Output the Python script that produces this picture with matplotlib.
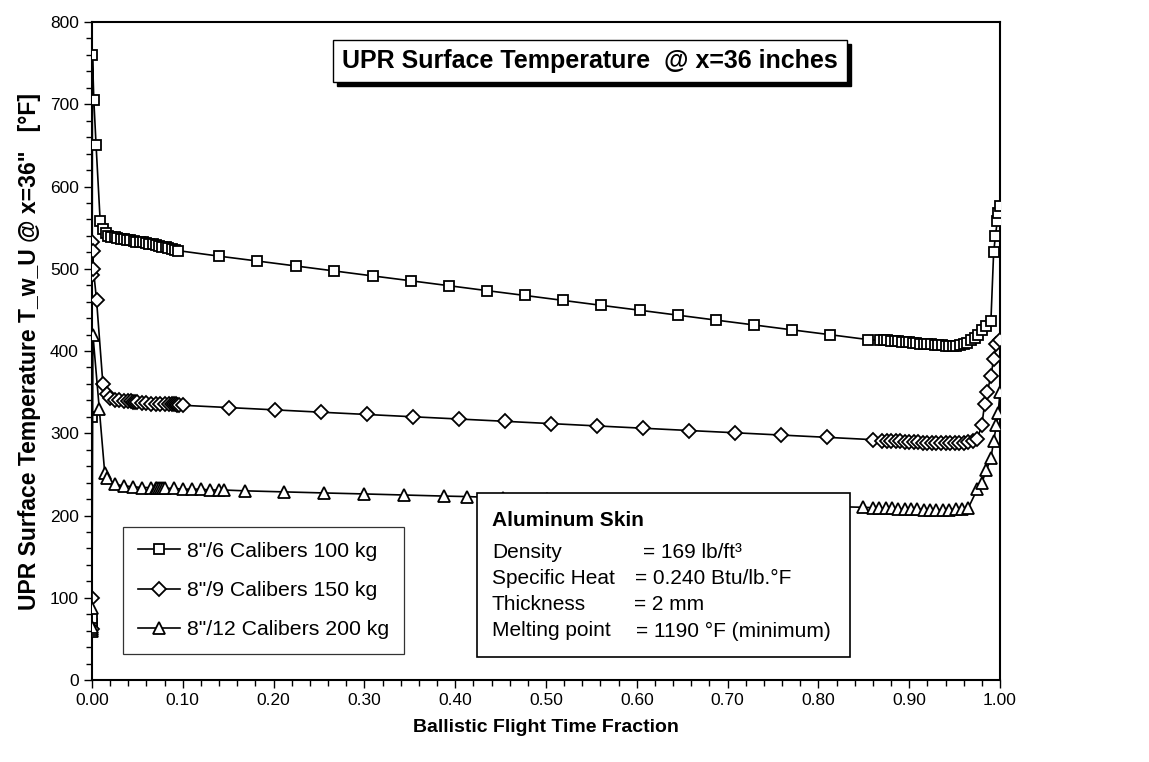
import matplotlib
matplotlib.use("Agg")
import matplotlib.pyplot as plt
from matplotlib.patches import Rectangle
from matplotlib.ticker import MultipleLocator, FormatStrFormatter

plt.rcParams['font.family'] = ['Liberation Sans', 'DejaVu Sans']

# 8"/6 calibers 100 kg (squares)
sq_x = [0, 0, 0, 0, 0.0005, 0.002, 0.0045, 0.009, 0.012, 0.015, 0.018,
        0.021, 0.025, 0.028, 0.032, 0.035, 0.039, 0.042, 0.046, 0.049, 0.053, 0.056,
        0.060, 0.063, 0.067, 0.070, 0.074, 0.077, 0.081, 0.084, 0.088, 0.091, 0.095,
        0.140, 0.182, 0.225, 0.267, 0.309, 0.351, 0.393, 0.435, 0.477, 0.519, 0.561,
        0.603, 0.645, 0.687, 0.729, 0.771, 0.813, 0.855,
        0.868, 0.872, 0.876, 0.880, 0.884, 0.888, 0.892, 0.896, 0.900, 0.904, 0.908,
        0.912, 0.916, 0.920, 0.924, 0.928, 0.932, 0.936, 0.940, 0.944, 0.948, 0.952,
        0.956, 0.960, 0.964, 0.968, 0.972, 0.976, 0.980, 0.985, 0.990, 0.993, 0.995,
        0.997, 0.998, 1.000]
sq_y = [62, 68, 75, 320, 760, 705, 650, 558, 548, 543, 540,
        539, 538, 537, 536.5, 536, 535, 534.5, 534, 533, 532.5, 532,
        531, 530, 529.5, 529, 528, 527, 526, 525, 524, 523, 522,
        515.3, 509.4, 503.3, 497.3, 491.3, 485.4, 479.4, 473.4, 467.5, 461.5, 455.5,
        449.6, 443.6, 437.6, 431.7, 425.7, 419.8, 413.8,
        413, 413, 413, 412, 412, 412, 411, 411, 411, 410, 410,
        409, 409, 408, 408, 407, 407, 407, 406, 406, 406, 406,
        407, 408, 410, 413, 416, 420, 425, 430, 437, 520, 540,
        558, 568, 576]

# 8"/9 calibers 150 kg (diamonds)
dm_x = [0, 0, 0, 0.0005, 0.001, 0.0015, 0.005, 0.012, 0.016, 0.020, 0.025, 0.030,
        0.035, 0.040, 0.043, 0.045, 0.047, 0.050, 0.055, 0.060, 0.065, 0.070, 0.075,
        0.080, 0.085, 0.088, 0.090, 0.092, 0.094, 0.096, 0.100,
        0.151, 0.202, 0.252, 0.303, 0.354, 0.404, 0.455, 0.506, 0.556, 0.607, 0.658,
        0.708, 0.759, 0.810, 0.860,
        0.870, 0.875, 0.880, 0.885, 0.890, 0.895, 0.900, 0.905, 0.910, 0.915, 0.920,
        0.925, 0.930, 0.935, 0.940, 0.945, 0.950, 0.955, 0.960, 0.965, 0.970, 0.975,
        0.980, 0.983, 0.986, 0.990, 0.993, 0.996, 1.000]
dm_y = [62, 100, 492, 533, 522, 500, 462, 360, 348, 343, 341, 340,
        339, 339, 339, 338, 338, 338, 337, 337, 336, 336, 336,
        335, 335, 335, 335, 335, 334, 334, 334,
        331.2, 328.4, 325.6, 322.8, 320.0, 317.3, 314.5, 311.7, 308.9, 306.1, 303.3,
        300.6, 297.8, 295.0, 292.2,
        291, 291, 290, 290, 290, 289, 289, 289, 289, 288, 288,
        288, 288, 288, 288, 288, 288, 288, 288, 289, 291, 293,
        310, 335, 350, 370, 390, 408, 413]

# 8"/12 calibers 200 kg (triangles)
tr_x = [0, 0, 0, 0, 0.001, 0.008, 0.014, 0.017, 0.025,
        0.035, 0.045, 0.055, 0.065, 0.070, 0.072, 0.074, 0.076, 0.078, 0.080, 0.090,
        0.100, 0.110, 0.120, 0.130, 0.140, 0.145,
        0.168, 0.212, 0.256, 0.300, 0.344, 0.388, 0.413, 0.453, 0.501, 0.545, 0.589,
        0.633, 0.677, 0.721, 0.765, 0.809,
        0.849, 0.860, 0.867, 0.874, 0.881, 0.888, 0.895, 0.902, 0.909, 0.916, 0.923,
        0.930, 0.937, 0.944, 0.951, 0.958, 0.965, 0.975, 0.980, 0.985, 0.990, 0.993,
        0.996, 0.998, 1.000]
tr_y = [60, 62, 65, 88, 420, 330, 252, 246, 238,
        236, 235, 234, 234, 233, 233, 233, 233, 233, 233, 233,
        232, 232, 232, 231, 231, 231,
        230, 228.7, 227.4, 226.2, 224.9, 223.6, 223, 221.5, 220, 218.5, 217.2,
        216, 214.7, 213.4, 212.1, 211,
        210, 209.5, 209, 209, 209, 208, 208, 208, 208, 207, 207,
        207, 207, 207, 208, 208, 209, 232, 240, 255, 270, 290,
        310, 325, 350]

series = [
    (sq_x, sq_y, 's', 7.5, '8"/6 Calibers 100 kg'),
    (dm_x, dm_y, 'D', 7.5, '8"/9 Calibers 150 kg'),
    (tr_x, tr_y, '^', 9, '8"/12 Calibers 200 kg'),
]

W, H = 1149, 762
fig = plt.figure(figsize=(W / 100, H / 100), dpi=100)
ax = fig.add_axes([92 / W, 1 - 680 / H, 908 / W, 658 / H])

for x, y, m, ms, lab in series:
    ax.plot(x, y, color='black', lw=1.2, marker=m, ms=ms, mfc='white',
            mec='black', mew=1.3, label=lab, zorder=3)

ax.set_xlim(0, 1)
ax.set_ylim(0, 800)
ax.xaxis.set_major_locator(MultipleLocator(0.1))
ax.xaxis.set_minor_locator(MultipleLocator(0.02))
ax.xaxis.set_major_formatter(FormatStrFormatter('%.2f'))
ax.yaxis.set_major_locator(MultipleLocator(100))
ax.yaxis.set_minor_locator(MultipleLocator(20))
ax.tick_params(which='both', direction='out', labelsize=12.5, width=1, color='black')
ax.tick_params(which='major', length=6)
ax.tick_params(which='minor', length=4)
for s in ax.spines.values():
    s.set_linewidth(1.5)

ax.set_xlabel('Ballistic Flight Time Fraction', fontsize=14, fontweight='bold', labelpad=8)
ax.set_ylabel('UPR Surface Temperature T_w_U @ x=36"   [°F]', fontsize=16.5,
              fontweight='bold', labelpad=6)

leg = ax.legend(loc='upper left', bbox_to_anchor=((123 - 92) / 908, (680 - 527) / 658),
                fontsize=15.3, frameon=True, fancybox=False, labelspacing=0.95,
                handlelength=2.0, handletextpad=0.3, borderpad=0.7, borderaxespad=0,
                markerscale=0.9)
leg.get_frame().set_edgecolor('black')
leg.get_frame().set_linewidth(0.9)
leg.set_zorder(5)

# material box
box_l, box_t, box_r, box_b = 477, 493, 850, 657
fig.patches.append(Rectangle((box_l / W, 1 - box_b / H), (box_r - box_l) / W,
                             (box_b - box_t) / H, transform=fig.transFigure,
                             facecolor='white', edgecolor='black', lw=1.2, zorder=6))
fig.text(492 / W, 1 - 520 / H, 'Aluminum Skin', fontsize=15, fontweight='bold',
         va='center', zorder=7)
rows = [('Density', 643, '= 169 lb/ft³', 552),
        ('Specific Heat', 635, '= 0.240 Btu/lb.°F', 578),
        ('Thickness', 634, '= 2 mm', 605),
        ('Melting point', 636, '= 1190 °F (minimum)', 631)]
for name, xe, val, yy in rows:
    fig.text(492 / W, 1 - yy / H, name, fontsize=15, va='center', zorder=7)
    fig.text(xe / W, 1 - yy / H, val, fontsize=15, va='center', zorder=7)

# title box with drop shadow
title = fig.text(590 / W, 1 - 61 / H, 'UPR Surface Temperature  @ x=36 inches',
                 fontsize=18, fontweight='bold', ha='center', va='center',
                 bbox=dict(boxstyle='square,pad=0.35', facecolor='white',
                           edgecolor='black', lw=1), zorder=8)
fig.canvas.draw()
bb = title.get_bbox_patch().get_window_extent()
fig.patches.append(Rectangle(((bb.x0 + 4) / W, (bb.y0 - 4) / H), bb.width / W, bb.height / H,
                             transform=fig.transFigure, facecolor='black',
                             edgecolor='black', zorder=7))

fig.savefig('out.png', dpi=100)
